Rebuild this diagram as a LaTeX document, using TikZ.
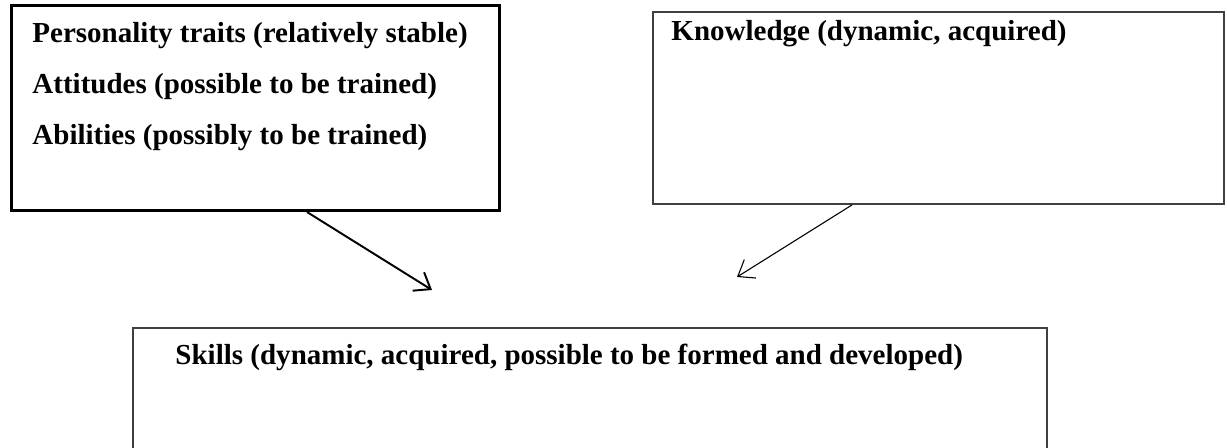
\documentclass[tikz,border=0pt]{standalone}
\usepackage{fontspec}
\setmainfont{Liberation Serif}
\usetikzlibrary{arrows.meta}

\tikzset{
  heavybox/.style={draw=black, line width=1.25pt, rectangle, anchor=north west, inner sep=0pt},
  lightbox/.style={draw=black!75, line width=0.8pt, rectangle, anchor=north west, inner sep=0pt},
  label/.style={anchor=west, inner sep=0pt, font=\fontsize{12}{14}\selectfont\bfseries},
  flow/.style={-{Straight Barb[length=6pt, width=9pt]}}
}

\begin{document}
\begin{tikzpicture}[x=0.01454cm, y=-0.01454cm]
\clip (0,0) rectangle (1227,448);
% Boxes
\node[heavybox, minimum width=488*0.01454cm, minimum height=205*0.01454cm] (traits) at (10,4) {};
\node[lightbox, minimum width=571*0.01454cm, minimum height=192*0.01454cm] (knowledge) at (652,11) {};
\node[lightbox, minimum width=914*0.01454cm, minimum height=200*0.01454cm] (skills) at (132,327) {};

% Texts
\node[label] (t1) at (32,36) {Personality traits (relatively stable)};
\node[label] (t2) at (32,87) {Attitudes (possible to be trained)};
\node[label] (t3) at (32,138) {Abilities (possibly to be trained)};
\node[label] (k1) at (671,34) {Knowledge (dynamic, acquired)};
\node[label] (s1) at (175,357) {Skills (dynamic, acquired, possible to be formed and developed)};

% Arrows
\path (traits.south west) ++(297,0) coordinate (fromtraits);
\path (knowledge.south west) ++(200,0) coordinate (fromknow);
\coordinate (tiptraits) at (432,290);
\coordinate (tipknow) at (737,277);
\draw[flow, line width=0.8pt] (fromtraits) -- (tiptraits);
\draw[flow, line width=0.45pt] (fromknow) -- (tipknow);
\end{tikzpicture}
\end{document}
